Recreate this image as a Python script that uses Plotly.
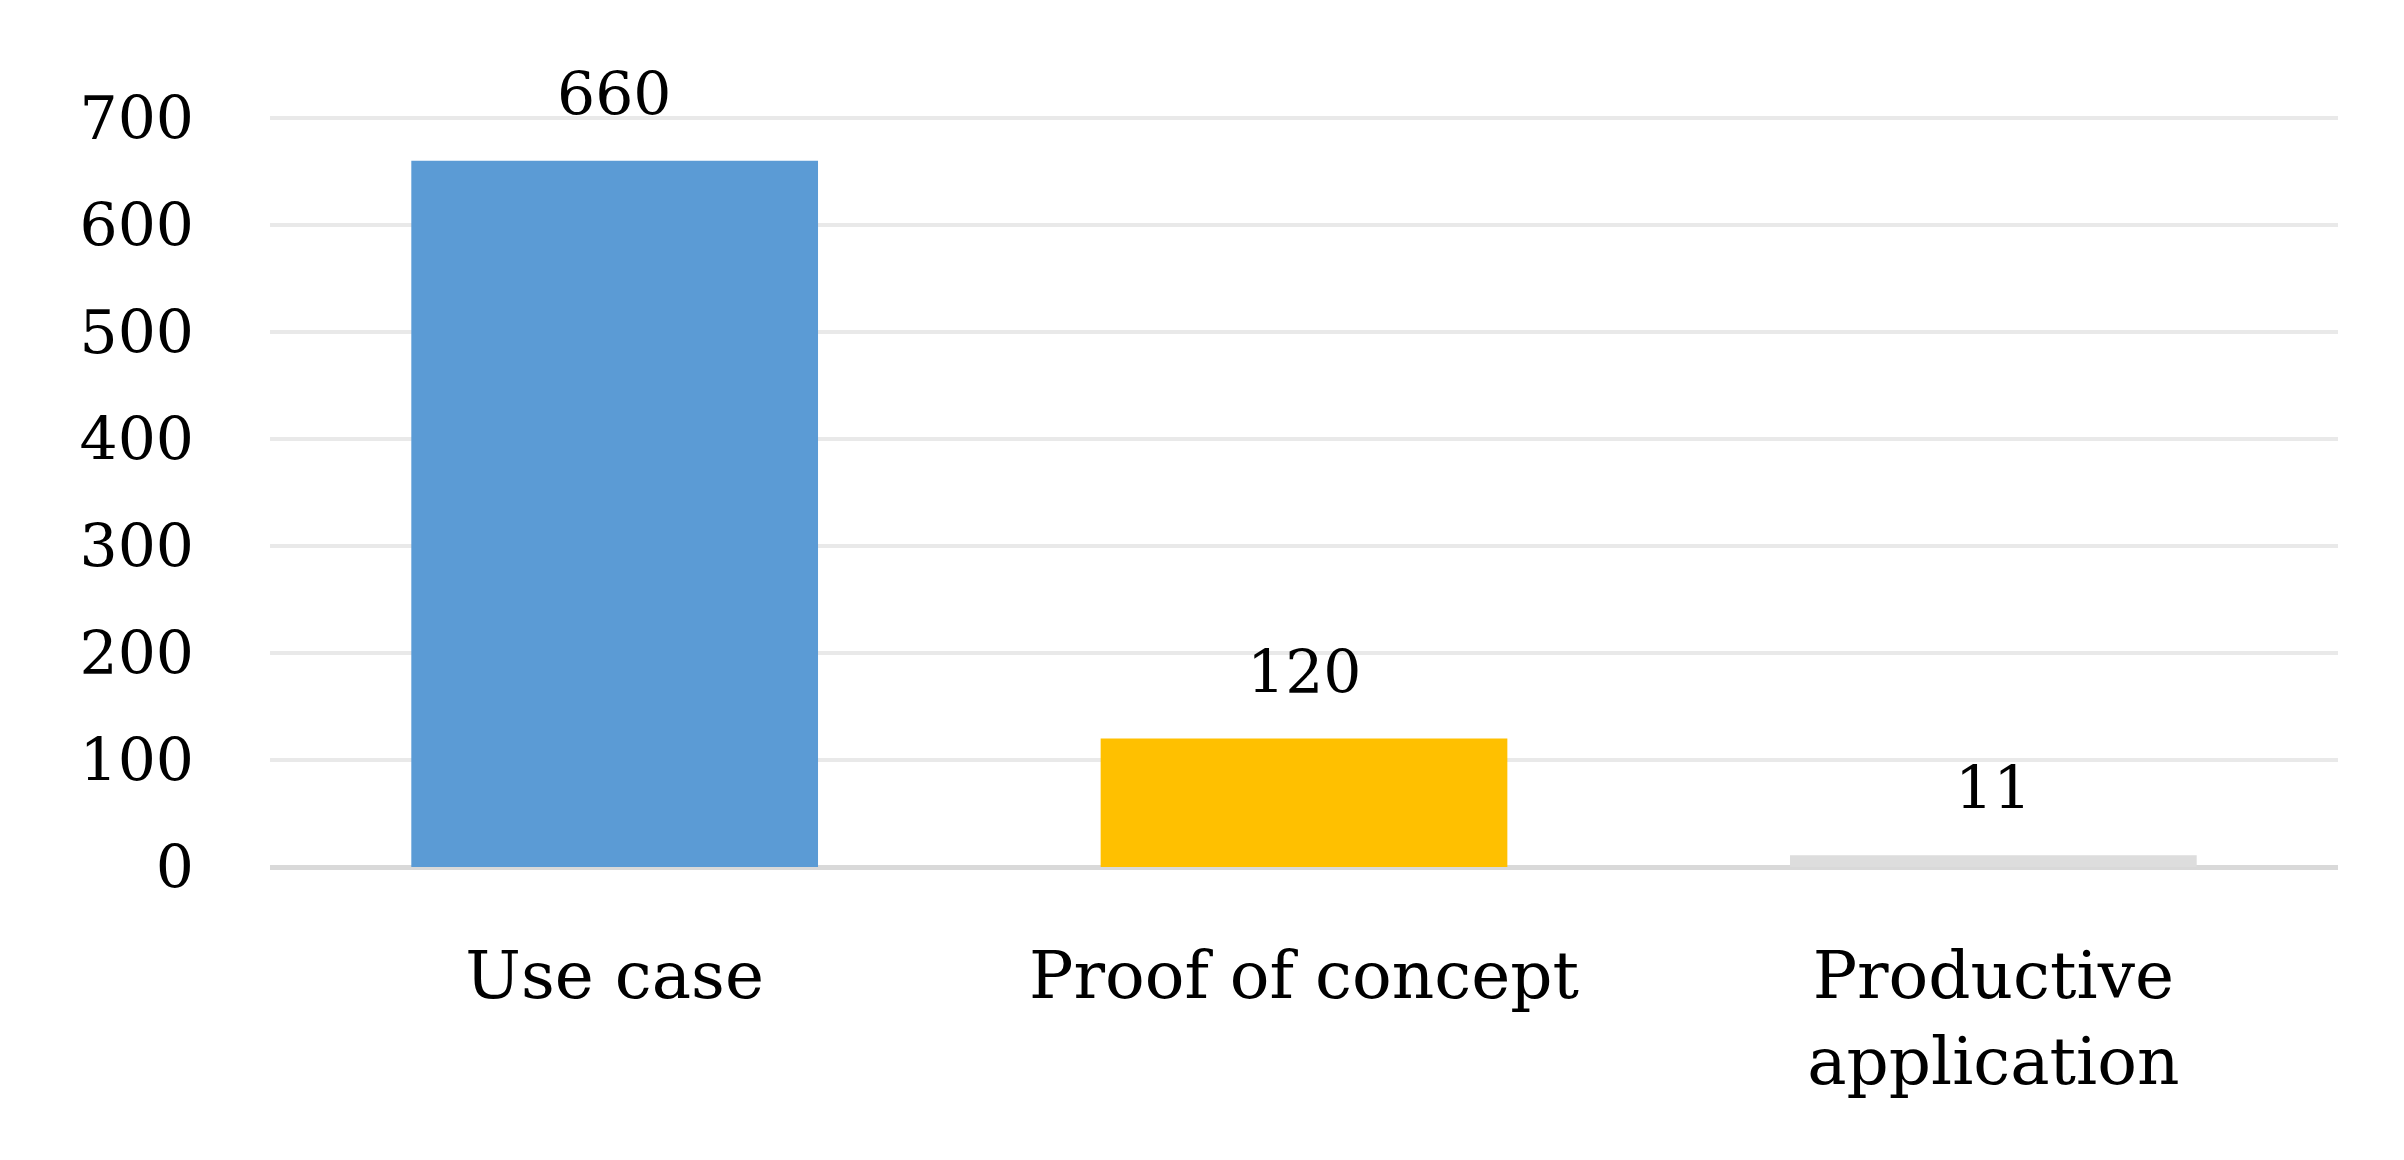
import plotly.graph_objects as go

categories = ["Use case", "Proof of concept", "Productive<br>application"]
values = [660, 120, 11]
colors = ["#5B9BD5", "#FFC000", "#DDDDDD"]
y_ticks = [0, 100, 200, 300, 400, 500, 600, 700]

font_family = "DejaVu Serif"

fig = go.Figure()
fig.add_trace(go.Bar(
    x=categories,
    y=values,
    marker=dict(color=colors, line=dict(width=0)),
    width=0.59,
    hoverinfo="skip",
))

# data labels sit a bit above each bar, like the office chart
for cat, val in zip(categories, values):
    fig.add_annotation(
        x=cat, y=val, text=str(val),
        showarrow=False, yanchor="bottom", yshift=30,
        font=dict(family=font_family, size=60, color="#000000"),
    )

fig.update_layout(
    width=2404,
    height=1160,
    margin=dict(l=262, r=74, t=109, b=301),
    paper_bgcolor="white",
    plot_bgcolor="white",
    showlegend=False,
    font=dict(family=font_family, size=60, color="#000000"),
)
fig.update_xaxes(
    showgrid=False,
    showline=False,
    ticks="",
    ticklabelstandoff=64,
    tickfont=dict(family=font_family, size=66),
)
fig.update_yaxes(
    range=[0, 701],
    tickvals=y_ticks,
    showgrid=True,
    gridcolor="#E9E9E9",
    gridwidth=4,
    zeroline=True,
    zerolinecolor="#D9D9D9",
    zerolinewidth=5,
    showline=False,
    ticks="",
    ticklabelstandoff=75,
    tickfont=dict(family=font_family, size=60),
)

fig.write_html("out.html")
